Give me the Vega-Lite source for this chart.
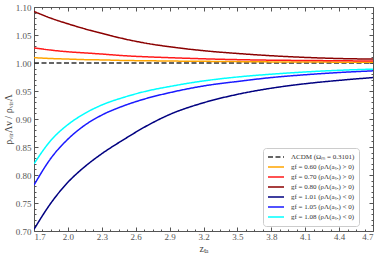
{
  "$schema": "https://vega.github.io/schema/vega-lite/v6.json",
  "width": 339,
  "height": 224,
  "autosize": {"type": "none"},
  "padding": {"left": 34, "top": 7, "right": 9, "bottom": 24},
  "background": "white",
  "config": {
    "view": {"stroke": "#555555", "strokeWidth": 1},
    "font": "Liberation Serif",
    "axis": {"grid": false, "domain": false, "tickColor": "#555555", "labelColor": "#555555", "titleColor": "#444444", "labelFont": "Liberation Serif", "titleFont": "Liberation Serif", "labelFontSize": 9, "titleFontSize": 10, "titleFontWeight": "normal"},
    "legend": {"labelFont": "Liberation Serif", "labelFontSize": 7, "labelColor": "#333333"}
  },
  "data": {"values": [
    {"z": 1.7, "r": 1.0, "s": "ΛCDM (Ωₘ = 0.3101)"},
    {"z": 4.7, "r": 1.0, "s": "ΛCDM (Ωₘ = 0.3101)"},
    {"z": 1.7, "r": 1.0095, "s": "gf = 0.60 (ρΛ(aₜₐ) > 0)"},
    {"z": 1.85, "r": 1.008, "s": "gf = 0.60 (ρΛ(aₜₐ) > 0)"},
    {"z": 2.0, "r": 1.007, "s": "gf = 0.60 (ρΛ(aₜₐ) > 0)"},
    {"z": 2.15, "r": 1.006, "s": "gf = 0.60 (ρΛ(aₜₐ) > 0)"},
    {"z": 2.3, "r": 1.0055, "s": "gf = 0.60 (ρΛ(aₜₐ) > 0)"},
    {"z": 2.5, "r": 1.0045, "s": "gf = 0.60 (ρΛ(aₜₐ) > 0)"},
    {"z": 2.7, "r": 1.004, "s": "gf = 0.60 (ρΛ(aₜₐ) > 0)"},
    {"z": 2.9, "r": 1.0035, "s": "gf = 0.60 (ρΛ(aₜₐ) > 0)"},
    {"z": 3.2, "r": 1.003, "s": "gf = 0.60 (ρΛ(aₜₐ) > 0)"},
    {"z": 3.5, "r": 1.0025, "s": "gf = 0.60 (ρΛ(aₜₐ) > 0)"},
    {"z": 3.8, "r": 1.002, "s": "gf = 0.60 (ρΛ(aₜₐ) > 0)"},
    {"z": 4.1, "r": 1.002, "s": "gf = 0.60 (ρΛ(aₜₐ) > 0)"},
    {"z": 4.4, "r": 1.0015, "s": "gf = 0.60 (ρΛ(aₜₐ) > 0)"},
    {"z": 4.7, "r": 1.0015, "s": "gf = 0.60 (ρΛ(aₜₐ) > 0)"},
    {"z": 1.7, "r": 1.027, "s": "gf = 0.70 (ρΛ(aₜₐ) > 0)"},
    {"z": 1.85, "r": 1.023, "s": "gf = 0.70 (ρΛ(aₜₐ) > 0)"},
    {"z": 2.0, "r": 1.020, "s": "gf = 0.70 (ρΛ(aₜₐ) > 0)"},
    {"z": 2.15, "r": 1.018, "s": "gf = 0.70 (ρΛ(aₜₐ) > 0)"},
    {"z": 2.3, "r": 1.016, "s": "gf = 0.70 (ρΛ(aₜₐ) > 0)"},
    {"z": 2.5, "r": 1.013, "s": "gf = 0.70 (ρΛ(aₜₐ) > 0)"},
    {"z": 2.7, "r": 1.011, "s": "gf = 0.70 (ρΛ(aₜₐ) > 0)"},
    {"z": 2.9, "r": 1.0095, "s": "gf = 0.70 (ρΛ(aₜₐ) > 0)"},
    {"z": 3.2, "r": 1.0075, "s": "gf = 0.70 (ρΛ(aₜₐ) > 0)"},
    {"z": 3.5, "r": 1.006, "s": "gf = 0.70 (ρΛ(aₜₐ) > 0)"},
    {"z": 3.8, "r": 1.005, "s": "gf = 0.70 (ρΛ(aₜₐ) > 0)"},
    {"z": 4.1, "r": 1.0045, "s": "gf = 0.70 (ρΛ(aₜₐ) > 0)"},
    {"z": 4.4, "r": 1.004, "s": "gf = 0.70 (ρΛ(aₜₐ) > 0)"},
    {"z": 4.7, "r": 1.0035, "s": "gf = 0.70 (ρΛ(aₜₐ) > 0)"},
    {"z": 1.7, "r": 1.092, "s": "gf = 0.80 (ρΛ(aₜₐ) > 0)"},
    {"z": 1.85, "r": 1.080, "s": "gf = 0.80 (ρΛ(aₜₐ) > 0)"},
    {"z": 2.0, "r": 1.070, "s": "gf = 0.80 (ρΛ(aₜₐ) > 0)"},
    {"z": 2.15, "r": 1.061, "s": "gf = 0.80 (ρΛ(aₜₐ) > 0)"},
    {"z": 2.3, "r": 1.053, "s": "gf = 0.80 (ρΛ(aₜₐ) > 0)"},
    {"z": 2.5, "r": 1.043, "s": "gf = 0.80 (ρΛ(aₜₐ) > 0)"},
    {"z": 2.7, "r": 1.035, "s": "gf = 0.80 (ρΛ(aₜₐ) > 0)"},
    {"z": 2.9, "r": 1.029, "s": "gf = 0.80 (ρΛ(aₜₐ) > 0)"},
    {"z": 3.2, "r": 1.022, "s": "gf = 0.80 (ρΛ(aₜₐ) > 0)"},
    {"z": 3.5, "r": 1.017, "s": "gf = 0.80 (ρΛ(aₜₐ) > 0)"},
    {"z": 3.8, "r": 1.013, "s": "gf = 0.80 (ρΛ(aₜₐ) > 0)"},
    {"z": 4.1, "r": 1.010, "s": "gf = 0.80 (ρΛ(aₜₐ) > 0)"},
    {"z": 4.4, "r": 1.008, "s": "gf = 0.80 (ρΛ(aₜₐ) > 0)"},
    {"z": 4.7, "r": 1.007, "s": "gf = 0.80 (ρΛ(aₜₐ) > 0)"},
    {"z": 1.7, "r": 0.703, "s": "gf = 1.01 (ρΛ(aₜₐ) < 0)"},
    {"z": 1.85, "r": 0.750, "s": "gf = 1.01 (ρΛ(aₜₐ) < 0)"},
    {"z": 2.0, "r": 0.787, "s": "gf = 1.01 (ρΛ(aₜₐ) < 0)"},
    {"z": 2.15, "r": 0.815, "s": "gf = 1.01 (ρΛ(aₜₐ) < 0)"},
    {"z": 2.3, "r": 0.838, "s": "gf = 1.01 (ρΛ(aₜₐ) < 0)"},
    {"z": 2.5, "r": 0.864, "s": "gf = 1.01 (ρΛ(aₜₐ) < 0)"},
    {"z": 2.7, "r": 0.888, "s": "gf = 1.01 (ρΛ(aₜₐ) < 0)"},
    {"z": 2.9, "r": 0.908, "s": "gf = 1.01 (ρΛ(aₜₐ) < 0)"},
    {"z": 3.2, "r": 0.929, "s": "gf = 1.01 (ρΛ(aₜₐ) < 0)"},
    {"z": 3.5, "r": 0.944, "s": "gf = 1.01 (ρΛ(aₜₐ) < 0)"},
    {"z": 3.8, "r": 0.955, "s": "gf = 1.01 (ρΛ(aₜₐ) < 0)"},
    {"z": 4.1, "r": 0.963, "s": "gf = 1.01 (ρΛ(aₜₐ) < 0)"},
    {"z": 4.4, "r": 0.969, "s": "gf = 1.01 (ρΛ(aₜₐ) < 0)"},
    {"z": 4.7, "r": 0.974, "s": "gf = 1.01 (ρΛ(aₜₐ) < 0)"},
    {"z": 1.7, "r": 0.782, "s": "gf = 1.05 (ρΛ(aₜₐ) < 0)"},
    {"z": 1.85, "r": 0.830, "s": "gf = 1.05 (ρΛ(aₜₐ) < 0)"},
    {"z": 2.0, "r": 0.864, "s": "gf = 1.05 (ρΛ(aₜₐ) < 0)"},
    {"z": 2.15, "r": 0.889, "s": "gf = 1.05 (ρΛ(aₜₐ) < 0)"},
    {"z": 2.3, "r": 0.907, "s": "gf = 1.05 (ρΛ(aₜₐ) < 0)"},
    {"z": 2.5, "r": 0.924, "s": "gf = 1.05 (ρΛ(aₜₐ) < 0)"},
    {"z": 2.7, "r": 0.937, "s": "gf = 1.05 (ρΛ(aₜₐ) < 0)"},
    {"z": 2.9, "r": 0.947, "s": "gf = 1.05 (ρΛ(aₜₐ) < 0)"},
    {"z": 3.2, "r": 0.959, "s": "gf = 1.05 (ρΛ(aₜₐ) < 0)"},
    {"z": 3.5, "r": 0.967, "s": "gf = 1.05 (ρΛ(aₜₐ) < 0)"},
    {"z": 3.8, "r": 0.974, "s": "gf = 1.05 (ρΛ(aₜₐ) < 0)"},
    {"z": 4.1, "r": 0.979, "s": "gf = 1.05 (ρΛ(aₜₐ) < 0)"},
    {"z": 4.4, "r": 0.983, "s": "gf = 1.05 (ρΛ(aₜₐ) < 0)"},
    {"z": 4.7, "r": 0.986, "s": "gf = 1.05 (ρΛ(aₜₐ) < 0)"},
    {"z": 1.7, "r": 0.820, "s": "gf = 1.08 (ρΛ(aₜₐ) < 0)"},
    {"z": 1.85, "r": 0.862, "s": "gf = 1.08 (ρΛ(aₜₐ) < 0)"},
    {"z": 2.0, "r": 0.890, "s": "gf = 1.08 (ρΛ(aₜₐ) < 0)"},
    {"z": 2.15, "r": 0.910, "s": "gf = 1.08 (ρΛ(aₜₐ) < 0)"},
    {"z": 2.3, "r": 0.925, "s": "gf = 1.08 (ρΛ(aₜₐ) < 0)"},
    {"z": 2.5, "r": 0.939, "s": "gf = 1.08 (ρΛ(aₜₐ) < 0)"},
    {"z": 2.7, "r": 0.950, "s": "gf = 1.08 (ρΛ(aₜₐ) < 0)"},
    {"z": 2.9, "r": 0.958, "s": "gf = 1.08 (ρΛ(aₜₐ) < 0)"},
    {"z": 3.2, "r": 0.968, "s": "gf = 1.08 (ρΛ(aₜₐ) < 0)"},
    {"z": 3.5, "r": 0.975, "s": "gf = 1.08 (ρΛ(aₜₐ) < 0)"},
    {"z": 3.8, "r": 0.980, "s": "gf = 1.08 (ρΛ(aₜₐ) < 0)"},
    {"z": 4.1, "r": 0.984, "s": "gf = 1.08 (ρΛ(aₜₐ) < 0)"},
    {"z": 4.4, "r": 0.987, "s": "gf = 1.08 (ρΛ(aₜₐ) < 0)"},
    {"z": 4.7, "r": 0.989, "s": "gf = 1.08 (ρΛ(aₜₐ) < 0)"}
  ]},
  "resolve": {"axis": {"x": "independent", "y": "independent"}},
  "layer": [
    {
      "mark": {"type": "line", "strokeWidth": 1.5, "interpolate": "monotone", "clip": true},
      "encoding": {
        "x": {"field": "z", "type": "quantitative", "scale": {"domain": [1.7, 4.7], "nice": false, "zero": false},
              "axis": {"orient": "bottom", "title": "zₜₐ", "values": [1.7, 2.0, 2.3, 2.6, 2.9, 3.2, 3.5, 3.8, 4.1, 4.4, 4.7], "format": ".1f", "tickSize": -4, "labelPadding": 5, "titleY": 17, "titleBaseline": "middle"}},
        "y": {"field": "r", "type": "quantitative", "scale": {"domain": [0.7, 1.1], "nice": false, "zero": false},
              "axis": {"orient": "left", "title": "ρᵥᵢᵣΛν / ρᵥᵢᵣΛ", "values": [0.7, 0.75, 0.8, 0.85, 0.9, 0.95, 1.0, 1.05, 1.1], "format": ".2f", "tickSize": -4, "labelPadding": 7, "titlePadding": 2}},
        "color": {"field": "s", "type": "nominal",
                  "scale": {"domain": ["ΛCDM (Ωₘ = 0.3101)", "gf = 0.60 (ρΛ(aₜₐ) > 0)", "gf = 0.70 (ρΛ(aₜₐ) > 0)", "gf = 0.80 (ρΛ(aₜₐ) > 0)", "gf = 1.01 (ρΛ(aₜₐ) < 0)", "gf = 1.05 (ρΛ(aₜₐ) < 0)", "gf = 1.08 (ρΛ(aₜₐ) < 0)"],
                            "range": ["#333333", "#FFA500", "#FF1A1A", "#8B0000", "#000080", "#1A1AFF", "#00FFFF"]},
                  "legend": {"title": null, "orient": "none", "legendX": 229, "legendY": 141, "symbolType": "stroke", "symbolSize": 256, "symbolStrokeWidth": 1.5, "clipHeight": 10, "rowPadding": 0, "padding": 4, "strokeColor": "#cccccc", "fillColor": "white", "cornerRadius": 3, "labelOffset": 6}},
        "strokeDash": {"field": "s", "type": "nominal",
                  "scale": {"domain": ["ΛCDM (Ωₘ = 0.3101)", "gf = 0.60 (ρΛ(aₜₐ) > 0)", "gf = 0.70 (ρΛ(aₜₐ) > 0)", "gf = 0.80 (ρΛ(aₜₐ) > 0)", "gf = 1.01 (ρΛ(aₜₐ) < 0)", "gf = 1.05 (ρΛ(aₜₐ) < 0)", "gf = 1.08 (ρΛ(aₜₐ) < 0)"],
                            "range": [[5, 2.5], [1, 0], [1, 0], [1, 0], [1, 0], [1, 0], [1, 0]]},
                  "legend": {"title": null, "orient": "none", "legendX": 229, "legendY": 141, "symbolType": "stroke", "symbolSize": 256, "symbolStrokeWidth": 1.5, "clipHeight": 10, "rowPadding": 0, "padding": 4, "strokeColor": "#cccccc", "fillColor": "white", "cornerRadius": 3, "labelOffset": 6}}
      }
    },
    {
      "mark": {"type": "line", "opacity": 0},
      "encoding": {
        "x": {"field": "z", "type": "quantitative", "scale": {"domain": [1.7, 4.7], "nice": false, "zero": false},
              "axis": {"orient": "top", "title": null, "labels": false, "values": [1.7, 2.0, 2.3, 2.6, 2.9, 3.2, 3.5, 3.8, 4.1, 4.4, 4.7], "tickSize": -4}},
        "y": {"field": "r", "type": "quantitative", "scale": {"domain": [0.7, 1.1], "nice": false, "zero": false},
              "axis": {"orient": "right", "title": null, "labels": false, "values": [0.7, 0.75, 0.8, 0.85, 0.9, 0.95, 1.0, 1.05, 1.1], "tickSize": -4}},
        "detail": {"field": "s", "type": "nominal"}
      }
    },
    {
      "mark": {"type": "line", "opacity": 0},
      "encoding": {
        "x": {"field": "z", "type": "quantitative", "scale": {"domain": [1.7, 4.7], "nice": false, "zero": false},
              "axis": {"orient": "bottom", "title": null, "labels": false, "tickSize": -2, "values": [1.775, 1.85, 1.925, 2.075, 2.15, 2.225, 2.375, 2.45, 2.525, 2.675, 2.75, 2.825, 2.975, 3.05, 3.125, 3.275, 3.35, 3.425, 3.575, 3.65, 3.725, 3.875, 3.95, 4.025, 4.175, 4.25, 4.325, 4.475, 4.55, 4.625]}},
        "y": {"field": "r", "type": "quantitative", "scale": {"domain": [0.7, 1.1], "nice": false, "zero": false},
              "axis": {"orient": "left", "title": null, "labels": false, "tickSize": -2, "values": [0.71, 0.72, 0.73, 0.74, 0.76, 0.77, 0.78, 0.79, 0.81, 0.82, 0.83, 0.84, 0.86, 0.87, 0.88, 0.89, 0.91, 0.92, 0.93, 0.94, 0.96, 0.97, 0.98, 0.99, 1.01, 1.02, 1.03, 1.04, 1.06, 1.07, 1.08, 1.09]}},
        "detail": {"field": "s", "type": "nominal"}
      }
    },
    {
      "mark": {"type": "line", "opacity": 0},
      "encoding": {
        "x": {"field": "z", "type": "quantitative", "scale": {"domain": [1.7, 4.7], "nice": false, "zero": false},
              "axis": {"orient": "top", "title": null, "labels": false, "tickSize": -2, "values": [1.775, 1.85, 1.925, 2.075, 2.15, 2.225, 2.375, 2.45, 2.525, 2.675, 2.75, 2.825, 2.975, 3.05, 3.125, 3.275, 3.35, 3.425, 3.575, 3.65, 3.725, 3.875, 3.95, 4.025, 4.175, 4.25, 4.325, 4.475, 4.55, 4.625]}},
        "y": {"field": "r", "type": "quantitative", "scale": {"domain": [0.7, 1.1], "nice": false, "zero": false},
              "axis": {"orient": "right", "title": null, "labels": false, "tickSize": -2, "values": [0.71, 0.72, 0.73, 0.74, 0.76, 0.77, 0.78, 0.79, 0.81, 0.82, 0.83, 0.84, 0.86, 0.87, 0.88, 0.89, 0.91, 0.92, 0.93, 0.94, 0.96, 0.97, 0.98, 0.99, 1.01, 1.02, 1.03, 1.04, 1.06, 1.07, 1.08, 1.09]}},
        "detail": {"field": "s", "type": "nominal"}
      }
    }
  ]
}
